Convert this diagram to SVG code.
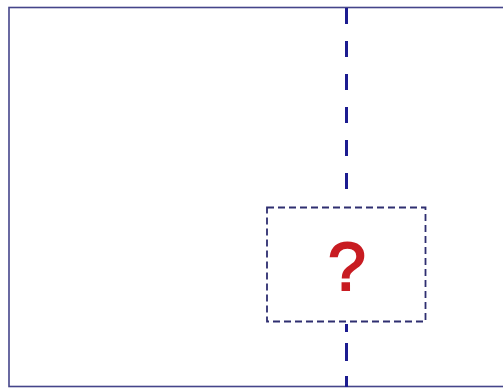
<svg xmlns="http://www.w3.org/2000/svg" width="503" height="390" viewBox="0 0 503 390">
<style>
.frame{fill:#ffffff;stroke:#45458a;stroke-width:1.6}
.axis{stroke:#1c1c90;stroke-width:3;fill:none}
.box{fill:#ffffff;stroke:#2e2e70;stroke-width:1.8;stroke-dasharray:7 4}
.q{font-family:"Liberation Sans",Arial,sans-serif;font-size:68px;fill:#c81c22;stroke:#c81c22;stroke-width:2;text-anchor:middle}
</style>
<rect width="503" height="390" fill="#ffffff"/>
<g id="frame"><rect class="frame" x="9" y="7.5" width="510" height="379"/></g>
<g id="connectors">
<line class="axis" x1="346.5" y1="8" x2="346.5" y2="192" stroke-dasharray="16 17"/>
<line class="axis" x1="346.5" y1="324" x2="346.5" y2="387" stroke-dasharray="8 11 18 15 18"/>
</g>
<g id="unknown">
<rect class="box" x="267" y="207.5" width="158.5" height="114"/>
<text class="q" x="347" y="290">?</text>
</g>
</svg>
